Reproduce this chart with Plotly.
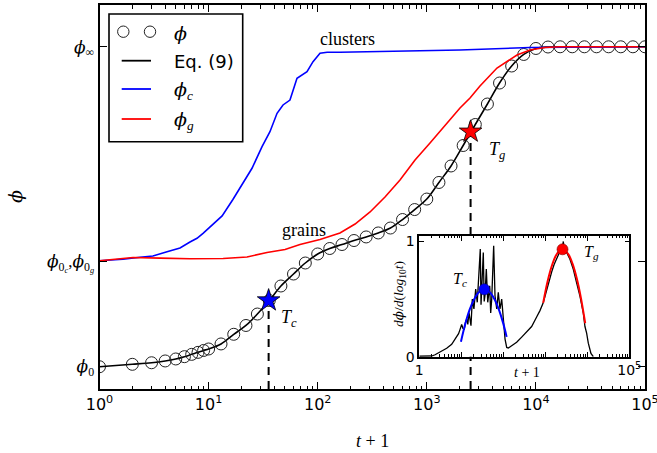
import math
import plotly.graph_objects as go

W, H = 657, 453
SERIF = "Liberation Serif"
GREEK = "DejaVu Serif"
SANS = "DejaVu Sans"

# Reference packing-fraction levels
PHI_0 = 0.300
PHI_0CG = 0.400
PHI_INF = 0.604

# phi(t): sampled values (open circles); Eq. (9) is drawn through them
t_phi = [1, 2, 3, 4, 5, 6, 7, 8, 9, 10, 13, 17, 22, 28, 36, 46, 60, 77, 100,
         129, 167, 215, 278, 359, 464, 599, 774, 1000, 1292, 1668, 2154, 2783,
         3594, 4642, 5995, 7743, 10000, 12915, 16681, 21544, 27826, 35938,
         46416, 59948, 77426, 100000]
phi = [0.2993, 0.3016, 0.3031, 0.3048, 0.3067, 0.3089, 0.3111, 0.3130, 0.3148,
       0.3162, 0.3210, 0.3302, 0.3386, 0.3495, 0.3624, 0.3762, 0.3876, 0.3981,
       0.4067, 0.4119, 0.4157, 0.4195, 0.4229, 0.4267, 0.4314, 0.4395, 0.4490,
       0.4590, 0.4748, 0.4905, 0.5100, 0.5300, 0.5495, 0.5695, 0.5857, 0.5967,
       0.6024, 0.6038, 0.6040, 0.6040, 0.6040, 0.6040, 0.6040, 0.6040, 0.6040,
       0.6040]

# phi_c(t): clusters
t_c = [1.0, 1.64, 2.35, 3.09, 4.16, 5.47, 6.75, 7.83, 8.89, 10.3, 11.0, 13.3,
       16.7, 20.7, 25.0, 30.9, 36.5, 42.4, 48.1, 55.7, 64.6, 79.8, 90.6, 105,
       122, 160, 250, 380, 568, 2015, 8830, 100000]
phi_c = [0.4003, 0.4016, 0.4035, 0.4048, 0.4089, 0.4124, 0.4181, 0.4216,
         0.4264, 0.4324, 0.4352, 0.4429, 0.4586, 0.4743, 0.4883, 0.5089,
         0.5231, 0.5407, 0.5486, 0.5533, 0.5740, 0.5803, 0.5898, 0.5978,
         0.5988, 0.5988, 0.5992, 0.5990, 0.5995, 0.6010, 0.6033, 0.6041]

# phi_g(t): grains
t_g = [1.0, 2.03, 3.58, 6.75, 13.6, 22.5, 34.3, 50.2, 68.8, 105, 160, 220,
       302, 414, 568, 780, 1070, 1468, 2015, 2489, 3073, 4399, 6710, 8830,
       12120, 16630, 100000]
phi_g = [0.4003, 0.4033, 0.4027, 0.4022, 0.4024, 0.4038, 0.4081, 0.4110,
         0.4157, 0.4205, 0.4267, 0.4352, 0.4467, 0.4610, 0.4771, 0.4962,
         0.5124, 0.5286, 0.5457, 0.5552, 0.5667, 0.5838, 0.5962, 0.6010,
         0.6033, 0.6040, 0.6041]

# Characteristic times
T_C, PHI_TC = 35.5, 0.3624
T_G, PHI_TG = 2520, 0.5231

# Inset: d(phi)/d(log10 t)
t_rate = [1.0, 1.41, 1.97, 2.37, 3.11, 4.49, 5.90, 7.48, 8.61, 9.31, 10.2,
          10.96, 11.8, 12.6, 13.5, 14.3, 15.2, 17.0, 18.3, 20.0, 22.0, 24.0,
          26.4, 28.3, 29.5, 30.5, 33.4, 35.1, 36.6, 39.4, 42.6, 47.4, 50.1,
          53.0, 59.0, 63.4, 69.7, 76.0, 83.4, 91.6, 100, 110, 120.5, 131.8,
          158, 208, 274, 360, 473, 622, 746, 897, 1076, 1230, 1416, 1622, 1862,
          2234, 2512, 2685, 2818, 3221, 3864, 4645, 5572, 6683, 8035, 8790,
          9638, 10568, 12218, 13900]
rate = [0.004, 0.004, 0.006, 0.017, 0.041, 0.073, 0.108, 0.160, 0.200, 0.235,
        0.280, 0.245, 0.240, 0.300, 0.327, 0.280, 0.385, 0.269, 0.500, 0.414,
        0.587, 0.472, 0.761, 0.934, 0.450, 0.587, 0.905, 0.480, 0.529, 0.761,
        0.472, 0.616, 0.380, 0.500, 0.963, 0.529, 0.414, 0.558, 0.414, 0.500,
        0.298, 0.153, 0.080, 0.075, 0.095, 0.125, 0.170, 0.215, 0.262, 0.345,
        0.400, 0.470, 0.580, 0.650, 0.735, 0.800, 0.850, 0.915, 0.930, 1.000,
        0.920, 0.904, 0.846, 0.758, 0.640, 0.525, 0.379, 0.262, 0.204, 0.117,
        0.029, 0.000]

# Peak fits around T_c and T_g
t_fit_c = [9.8, 12.6, 15.8, 20.0, 25.1, 31.6, 35.5, 39.8, 50.1, 63.1, 79.4,
           100, 120]
fit_c = [0.130, 0.292, 0.408, 0.495, 0.553, 0.582, 0.585, 0.581, 0.551,
         0.492, 0.404, 0.287, 0.172]
t_fit_g = [891, 1122, 1413, 1778, 2239, 2570, 2818, 3548, 4467, 5623, 7079,
           8913]
fit_g = [0.467, 0.647, 0.783, 0.876, 0.924, 0.932, 0.928, 0.889, 0.805,
         0.678, 0.506, 0.290]
T_C_PEAK, RATE_C_PEAK = 35.3, 0.585
T_G_PEAK, RATE_G_PEAK = 2570, 0.932

Y_MIN, Y_MAX = 0.2781, 0.6438
XMAJ = [1, 10, 100, 1000, 10000, 100000]
XMIN = [m * 10 ** k for k in range(5) for m in range(2, 10)]

PHI = f'<span style="font-family:{GREEK}"><i>ϕ</i></span>'


def px(x, y):
    """Pixel position -> paper coordinates."""
    return x / W, 1 - y / H


fig = go.Figure()

# main panel
fig.add_trace(go.Scatter(x=t_phi, y=phi, mode="lines", line=dict(color="black", width=1.6, shape="spline"),
                         xaxis="x", yaxis="y"))
fig.add_trace(go.Scatter(x=t_phi, y=phi, mode="markers",
                         marker=dict(symbol="circle-open", size=12, color="#222", line=dict(width=1)),
                         xaxis="x", yaxis="y"))
fig.add_trace(go.Scatter(x=t_c, y=phi_c, mode="lines", line=dict(color="#0000ff", width=1.6),
                         xaxis="x", yaxis="y"))
fig.add_trace(go.Scatter(x=t_g, y=phi_g, mode="lines", line=dict(color="#ff0000", width=1.6),
                         xaxis="x", yaxis="y"))
for tt, pp, col in [(T_C, PHI_TC, "#0000ff"), (T_G, PHI_TG, "#ff0000")]:
    fig.add_trace(go.Scatter(x=[tt, tt], y=[Y_MIN, pp], mode="lines",
                             line=dict(color="black", width=2, dash="8px,6px"),
                             xaxis="x", yaxis="y"))
    fig.add_trace(go.Scatter(x=[tt], y=[pp], mode="markers",
                             marker=dict(symbol="star", size=17, color=col, line=dict(color="black", width=0.8)),
                             xaxis="x", yaxis="y"))

# inset
fig.add_trace(go.Scatter(x=t_rate, y=rate, mode="lines", line=dict(color="black", width=1.3),
                         xaxis="x2", yaxis="y2"))
fig.add_trace(go.Scatter(x=t_fit_c, y=fit_c, mode="lines", line=dict(color="#0000ff", width=2, shape="spline"),
                         xaxis="x2", yaxis="y2"))
fig.add_trace(go.Scatter(x=t_fit_g, y=fit_g, mode="lines", line=dict(color="#ff0000", width=2, shape="spline"),
                         xaxis="x2", yaxis="y2"))
fig.add_trace(go.Scatter(x=[T_C_PEAK], y=[RATE_C_PEAK], mode="markers",
                         marker=dict(size=11, color="#0000ff", line=dict(color="#000080", width=0.6)),
                         xaxis="x2", yaxis="y2"))
fig.add_trace(go.Scatter(x=[T_G_PEAK], y=[RATE_G_PEAK], mode="markers",
                         marker=dict(size=11, color="#ff0000", line=dict(color="#800000", width=0.6)),
                         xaxis="x2", yaxis="y2"))

axis_common = dict(showline=True, linecolor="black", mirror="allticks", ticks="inside",
                   tickcolor="black", showgrid=False, zeroline=False, automargin=False,
                   ticklabeloverflow="allow")

fig.update_layout(
    width=W, height=H, margin=dict(l=0, r=0, t=0, b=0, autoexpand=False),
    paper_bgcolor="white", plot_bgcolor="white", showlegend=False,
    xaxis=dict(type="log", range=[0, 5], domain=[99.5 / W, 645 / W], anchor="y",
               linewidth=2, ticklen=7, tickwidth=1.2,
               tickvals=XMAJ, ticktext=[f"10<sup>{k}</sup>" for k in range(6)],
               tickfont=dict(family=SANS, size=16, color="black"),
               minor=dict(ticks="inside", ticklen=3.5, tickwidth=1, tickcolor="black",
                          tickmode="array", tickvals=XMIN),
               **axis_common),
    yaxis=dict(range=[Y_MIN, Y_MAX], domain=[1 - 389 / H, 1 - 5 / H], anchor="x",
               linewidth=2, ticklen=7, tickwidth=1.2,
               tickvals=[PHI_0, PHI_0CG, PHI_INF],
               ticktext=[f"{PHI}<sub>0</sub>",
                         f"{PHI}<sub>0<sub><i>c</i></sub></sub>,{PHI}<sub>0<sub><i>g</i></sub></sub>",
                         f"{PHI}<sub>∞</sub>"],
               tickfont=dict(family=SERIF, size=17, color="black"),
               **axis_common),
    xaxis2=dict(type="log", range=[0, 5], domain=[419.3 / W, 629.3 / W], anchor="y2",
                linewidth=1.6, ticklen=5, tickwidth=1,
                tickvals=XMAJ, ticktext=["1", "", "", "", "", "10<sup>5</sup>"],
                tickfont=dict(family=SANS, size=14, color="black"),
                minor=dict(ticks="inside", ticklen=2.5, tickwidth=0.8, tickcolor="black",
                           tickmode="array", tickvals=XMIN),
                **axis_common),
    yaxis2=dict(range=[0, 1.05], domain=[1 - 356.7 / H, 1 - 235.7 / H], anchor="x2",
                linewidth=1.6, ticklen=5, tickwidth=1,
                tickvals=[0, 1], ticktext=["0", "1"],
                tickfont=dict(family=SANS, size=14, color="black"),
                **axis_common),
)

ann = []


def text_px(x, y, s, size, family=SERIF, angle=0, xanchor="center"):
    ax, ay = px(x, y)
    ann.append(dict(x=ax, y=ay, xref="paper", yref="paper", text=s, showarrow=False,
                    font=dict(family=family, size=size, color="black"), textangle=angle,
                    xanchor=xanchor, yanchor="middle"))


def text_data(x, y, s, size, axes=("x", "y")):
    ann.append(dict(x=x, y=y, xref=axes[0], yref=axes[1], text=s, showarrow=False,
                    font=dict(family=SERIF, size=size, color="black"),
                    xanchor="center", yanchor="middle"))


# axis titles
text_px(372, 441, "<i>t</i> + 1", 18)
text_px(15, 197, PHI, 19, angle=-90)
text_px(527, 372, "<i>t</i> + 1", 14)
text_px(399, 294, f"<i>d</i>{PHI}/<i>d</i>(<i>log</i><sub>10</sub><i>t</i>)", 13.5, angle=-90)

# curve labels (log-axis annotations take log10 of t)
text_data(math.log10(186), 0.6114, "clusters", 18)
text_data(math.log10(75), 0.4295, "grains", 18)
text_data(math.log10(54.6), 0.3457, "<i>T</i><sub><i>c</i></sub>", 18)
text_data(math.log10(4400), 0.5048, "<i>T</i><sub><i>g</i></sub>", 18)
text_data(math.log10(9.3), 0.674, "<i>T</i><sub><i>c</i></sub>", 16, axes=("x2", "y2"))
text_data(math.log10(12250), 0.90, "<i>T</i><sub><i>g</i></sub>", 16, axes=("x2", "y2"))

# legend
shapes = []
bx0, by0 = px(109, 14)
bx1, by1 = px(242.7, 141.7)
shapes.append(dict(type="rect", xref="paper", yref="paper", x0=bx0, x1=bx1, y0=by1, y1=by0,
                   line=dict(color="black", width=1.6), fillcolor="white", layer="above"))
for cx in (123.3, 150):
    x0, y0 = px(cx - 5.7, 31.7 - 5.7)
    x1, y1 = px(cx + 5.7, 31.7 + 5.7)
    shapes.append(dict(type="circle", xref="paper", yref="paper", x0=x0, x1=x1, y0=y1, y1=y0,
                       line=dict(color="#222", width=1), layer="above"))
for yy, col in [(60.7, "black"), (89, "#0000ff"), (119, "#ff0000")]:
    x0, y0 = px(121.7, yy)
    x1, _ = px(151, yy)
    shapes.append(dict(type="line", xref="paper", yref="paper", x0=x0, x1=x1, y0=y0, y1=y0,
                       line=dict(color=col, width=1.8), layer="above"))
text_px(172, 33, PHI, 19, xanchor="left")
text_px(172, 61, "Eq. (9)", 18, family=SANS, xanchor="left")
text_px(172, 90, f"{PHI}<sub><i>c</i></sub>", 19, xanchor="left")
text_px(172, 120, f"{PHI}<sub><i>g</i></sub>", 19, xanchor="left")

fig.update_layout(annotations=ann, shapes=shapes)
fig.write_html("out.html", config={"displayModeBar": False})
